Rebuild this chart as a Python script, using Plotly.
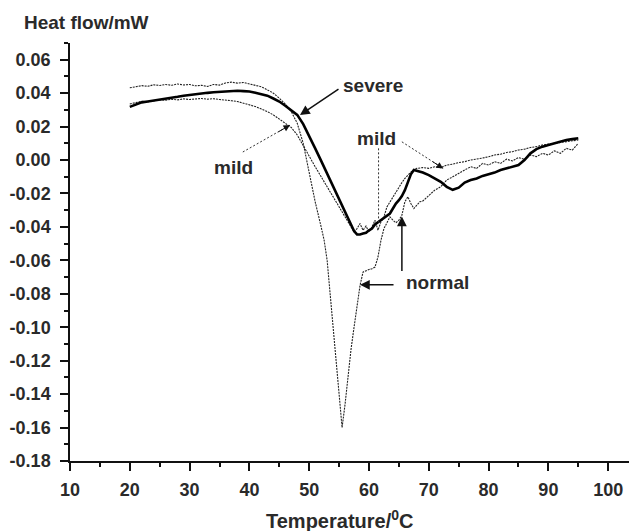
import plotly.graph_objects as go

# ---------------- data ----------------
normal_T = [20, 21, 22, 23, 24, 25, 26, 27, 28, 29, 30, 31, 32, 33, 34, 35, 36, 37, 38, 39,
            40, 41, 42, 43, 44, 45, 46, 47, 48, 49, 50, 51, 52, 52.5, 53, 53.5, 54, 54.5,
            55, 55.5, 56, 56.5, 57, 57.5, 58, 58.5, 59, 59.5, 60, 60.5, 61, 61.5, 62, 62.5,
            63, 63.5, 64, 64.5, 65, 65.5, 66, 66.5, 67, 67.5, 68, 68.5, 69, 70, 71, 72, 73,
            74, 75, 76, 77, 78, 79, 80, 81, 82, 83, 84, 85, 86, 87, 88, 89, 90, 91, 92, 93,
            94, 95]
normal_HF = [0.0432, 0.0440, 0.0445, 0.0441, 0.0450, 0.0446, 0.0452, 0.0447, 0.0455, 0.0449,
             0.0452, 0.0444, 0.0447, 0.0440, 0.0452, 0.0448, 0.0461, 0.0466, 0.0460, 0.0464,
             0.0456, 0.0448, 0.0438, 0.0420, 0.0400, 0.0370, 0.0335, 0.0290, 0.0220, 0.0100,
             -0.0080, -0.0250, -0.0400, -0.0480, -0.0600, -0.0800, -0.1010, -0.1220,
             -0.1430, -0.1600, -0.1460, -0.1280, -0.1130, -0.1000, -0.0880, -0.0750,
             -0.0670, -0.0660, -0.0655, -0.0650, -0.0640, -0.0580, -0.0480, -0.0410,
             -0.0370, -0.0340, -0.0360, -0.0375, -0.0360, -0.0330, -0.0250, -0.0220,
             -0.0260, -0.0290, -0.0270, -0.0250, -0.0245, -0.0210, -0.0180, -0.0160,
             -0.0120, -0.0100, -0.0080, -0.0060, -0.0040, -0.0050, -0.0020, -0.0030,
             -0.0010, -0.0020, 0.0005, -0.0005, 0.0015, 0.0005, 0.0030, 0.0020, 0.0040,
             0.0030, 0.0055, 0.0040, 0.0070, 0.0060, 0.0100]

severe_T = [20, 21, 22, 23, 24, 25, 26, 27, 28, 29, 30, 31, 32, 33, 34, 35, 36, 37, 38, 39,
            40, 41, 42, 43, 44, 45, 46, 47, 48, 49, 50, 51, 52, 53, 54, 55, 56, 57, 57.5,
            58, 58.5, 59, 59.5, 60, 60.5, 61, 61.5, 62, 62.5, 63, 63.5, 64, 64.5, 65, 65.5,
            66, 66.5, 67, 67.5, 68, 68.5, 69, 70, 71, 72, 73, 74, 75, 76, 77, 78, 79, 80,
            81, 82, 83, 84, 85, 86, 87, 88, 89, 90, 91, 92, 93, 94, 95]
severe_HF = [0.0318, 0.0330, 0.0345, 0.0350, 0.0355, 0.0362, 0.0368, 0.0372, 0.0378, 0.0385,
             0.0390, 0.0393, 0.0398, 0.0402, 0.0405, 0.0408, 0.0410, 0.0413, 0.0414, 0.0412,
             0.0410, 0.0403, 0.0395, 0.0385, 0.0368, 0.0350, 0.0325, 0.0300, 0.0270, 0.0215,
             0.0145, 0.0070, -0.0005, -0.0080, -0.0155, -0.0230, -0.0310, -0.0380, -0.0425,
             -0.0445, -0.0445, -0.0440, -0.0435, -0.0420, -0.0410, -0.0385, -0.0372,
             -0.0360, -0.0345, -0.0330, -0.0320, -0.0290, -0.0260, -0.0240, -0.0215,
             -0.0180, -0.0130, -0.0085, -0.0060, -0.0065, -0.0070, -0.0075, -0.0090,
             -0.0110, -0.0130, -0.0160, -0.0178, -0.0165, -0.0135, -0.0120, -0.0110,
             -0.0095, -0.0085, -0.0075, -0.0060, -0.0050, -0.0040, -0.0030, 0.0000, 0.0040,
             0.0065, 0.0080, 0.0090, 0.0100, 0.0110, 0.0120, 0.0125, 0.0130]

mild_T = [20, 21, 22, 23, 24, 25, 26, 27, 28, 29, 30, 31, 32, 33, 34, 35, 36, 37, 38, 39,
          40, 41, 42, 43, 44, 45, 46, 47, 48, 49, 50, 51, 52, 53, 54, 55, 56, 57, 57.5, 58,
          58.5, 59, 59.5, 60, 60.5, 61, 61.5, 62, 62.5, 63, 63.5, 64, 64.5, 65, 65.5, 66,
          66.5, 67, 67.5, 68, 69, 70, 71, 72, 73, 74, 75, 76, 77, 78, 79, 80, 81, 82, 83,
          84, 85, 86, 87, 88, 89, 90, 91, 92, 93, 94, 95]
mild_HF = [0.0335, 0.0345, 0.0352, 0.0348, 0.0356, 0.0360, 0.0358, 0.0363, 0.0360, 0.0366,
           0.0362, 0.0365, 0.0368, 0.0364, 0.0367, 0.0362, 0.0360, 0.0355, 0.0350, 0.0340,
           0.0332, 0.0320, 0.0305, 0.0290, 0.0270, 0.0245, 0.0220, 0.0195, 0.0150, 0.0085,
           0.0020, -0.0040, -0.0100, -0.0160, -0.0220, -0.0280, -0.0340, -0.0400, -0.0430,
           -0.0410, -0.0380, -0.0420, -0.0395, -0.0430, -0.0400, -0.0360, -0.0420,
           -0.0370, -0.0340, -0.0280, -0.0250, -0.0220, -0.0190, -0.0160, -0.0135,
           -0.0110, -0.0090, -0.0072, -0.0058, -0.0050, -0.0045, -0.0050, -0.0040,
           -0.0045, -0.0030, -0.0025, -0.0015, -0.0010, 0.0000, 0.0005, 0.0012, 0.0020,
           0.0030, 0.0035, 0.0045, 0.0050, 0.0060, 0.0065, 0.0075, 0.0080, 0.0090, 0.0095,
           0.0100, 0.0105, 0.0110, 0.0115, 0.0120]

x_tick_vals = [10, 20, 30, 40, 50, 60, 70, 80, 90, 100]
x_tick_text = ["10", "20", "30", "40", "50", "60", "70", "80", "90", "100"]
y_tick_vals = [0.06, 0.04, 0.02, 0.00, -0.02, -0.04, -0.06, -0.08, -0.10, -0.12, -0.14,
               -0.16, -0.18]
y_tick_text = ["0.06", "0.04", "0.02", "0.00", "-0.02", "-0.04", "-0.06", "-0.08",
               "-0.10", "-0.12", "-0.14", "-0.16", "-0.18"]
x_minor_vals = [15, 25, 35, 45, 55, 65, 75, 85, 95]
y_minor_vals = [0.07, 0.05, 0.03, 0.01, -0.01, -0.03, -0.05, -0.07, -0.09, -0.11, -0.13,
                -0.15, -0.17]

FONT = "Liberation Sans"
TXT = "#2a2a2a"

fig = go.Figure()
fig.add_trace(go.Scatter(x=normal_T, y=normal_HF, mode="lines", name="normal",
                         line=dict(color="#222", width=1.1, dash="2px,1px")))
fig.add_trace(go.Scatter(x=mild_T, y=mild_HF, mode="lines", name="mild",
                         line=dict(color="#222", width=1.1, dash="2px,1px")))
fig.add_trace(go.Scatter(x=severe_T, y=severe_HF, mode="lines", name="severe",
                         line=dict(color="#000", width=2.6)))

annots = []
def label(x, y, text):
    annots.append(dict(x=x, y=y, xref="x", yref="y", text=text, showarrow=False,
                       font=dict(family=FONT, size=19, color=TXT, weight="bold"),
                       xanchor="center", yanchor="middle"))

def arrow(x, y, ax, ay, width=1.5):
    annots.append(dict(x=x, y=y, xref="x", yref="y", ax=ax, ay=ay, text="",
                       showarrow=True, arrowhead=2, arrowsize=1.3, arrowwidth=width,
                       arrowcolor="#111", standoff=0))

label(60.7, 0.0448, "severe")
label(37.3, -0.0042, "mild")
label(61.3, 0.0131, "mild")
label(71.4, -0.0731, "normal")

arrow(48.46, 0.0269, 40, -27)
arrow(58.5, -0.0746, 35, 0)
arrow(65.5, -0.0338, 0, 56)
# heads for dotted arrows
arrow(46.8, 0.0209, -13, 7.5, 1.0)
arrow(72.4, -0.005, -12, -7.7, 1.0)

shapes = [
    dict(type="line", xref="x", yref="y", x0=38.9, y0=0.0048, x1=46.8, y1=0.0209,
         line=dict(color="#333", width=1, dash="2px,2px")),
    dict(type="line", xref="x", yref="y", x0=65.5, y0=0.0109, x1=72.4, y1=-0.005,
         line=dict(color="#333", width=1, dash="2px,2px")),
    dict(type="line", xref="x", yref="y", x0=61.6, y0=0.0070, x1=61.6, y1=-0.0375,
         line=dict(color="#333", width=1, dash="2px,2px")),
]

annots.append(dict(x=-0.0848, y=1.048, xref="paper", yref="paper", text="Heat flow/mW",
                   showarrow=False, xanchor="left", yanchor="middle",
                   font=dict(family=FONT, size=19, color=TXT, weight="bold")))
annots.append(dict(x=0.476, y=-0.1388, xref="paper", yref="paper",
                   text="Temperature/<sup>0</sup>C", showarrow=False,
                   xanchor="center", yanchor="middle",
                   font=dict(family=FONT, size=20, color=TXT, weight="bold")))

# page body has an 8px margin: figure is 8px smaller and shifted accordingly
fig.update_layout(
    width=629, height=523,
    margin=dict(l=62, r=1, t=35, b=70),
    plot_bgcolor="white", paper_bgcolor="white",
    showlegend=False,
    annotations=annots, shapes=shapes,
    font=dict(family=FONT, color=TXT),
)
fig.update_xaxes(range=[10, 104.65], showgrid=False, zeroline=False,
                 showline=True, linecolor="#111", linewidth=1.5,
                 tickmode="array", tickvals=x_tick_vals, ticktext=x_tick_text,
                 ticks="outside", ticklen=8, tickwidth=1.5, tickcolor="#111",
                 ticklabelstandoff=4,
                 tickfont=dict(family=FONT, size=18, color=TXT, weight="bold"),
                 minor=dict(tickvals=x_minor_vals, ticks="outside", ticklen=4,
                            tickwidth=1.5, tickcolor="#111", showgrid=False))
fig.update_yaxes(range=[-0.18, 0.07], showgrid=False, zeroline=False,
                 showline=True, linecolor="#111", linewidth=1.5,
                 tickmode="array", tickvals=y_tick_vals, ticktext=y_tick_text,
                 ticks="outside", ticklen=8, tickwidth=1.5, tickcolor="#111",
                 ticklabelstandoff=6,
                 tickfont=dict(family=FONT, size=18, color=TXT, weight="bold"),
                 minor=dict(tickvals=y_minor_vals, ticks="outside", ticklen=4,
                            tickwidth=1.5, tickcolor="#111", showgrid=False))

fig.write_html("out.html")
